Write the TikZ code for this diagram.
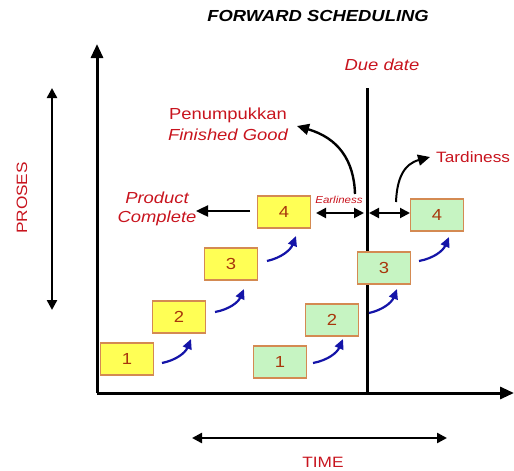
\documentclass[tikz,border=0pt]{standalone}
\usepackage{fontspec}
\setmainfont{Liberation Sans}[FakeStretch=1.15]
\usetikzlibrary{arrows.meta}
\definecolor{redtxt}{HTML}{C8141E}
\definecolor{numtxt}{HTML}{A8360C}
\definecolor{boxedge}{HTML}{D48A52}
\definecolor{yellowfill}{HTML}{FFFF55}
\definecolor{greenfill}{HTML}{C6F4C2}
\definecolor{bluearr}{HTML}{1414A8}
\tikzset{
  stepbox/.style={draw=boxedge, line width=1.3pt, minimum width=53pt, minimum height=32pt,
    inner sep=0pt, font=\fontsize{16}{18}\selectfont, text=numtxt},
  ybox/.style={stepbox, fill=yellowfill},
  gbox/.style={stepbox, fill=greenfill},
  axis/.style={line width=3pt, black},
  blk/.style={line width=2.4pt, black},
  bigtip/.style={-{Triangle[length=12pt,width=11pt]}},
  dbltip/.style={{Triangle[length=10pt,width=10pt]}-{Triangle[length=10pt,width=10pt]}},
  flow/.style={line width=2.2pt, bluearr, -{Triangle[length=10pt,width=9pt]}, bend right=28},
  lbl/.style={text=redtxt, font=\fontsize{16}{19}\selectfont, align=center}
}
\begin{document}
\begin{tikzpicture}[x=1pt,y=-1pt]
\useasboundingbox (0,0) rectangle (514,471);
% title
\node[font=\fontsize{16}{18}\selectfont\bfseries\itshape] (title) at (318,16) {FORWARD SCHEDULING};
% axes
\coordinate (origin) at (97,393);
\coordinate (ytop) at (97,44);
\coordinate (xend) at (514,393);
\draw[axis, -{Triangle[length=14pt,width=12pt]}] (origin) -- (ytop);
\draw[axis, -{Triangle[length=14pt,width=12pt]}] (origin) -- (xend);
% due date
\coordinate (ddtop) at (367,88);
\coordinate (ddbot) at (367,393);
\draw[axis] (ddtop) -- (ddbot);
\node[lbl, font=\fontsize{16}{19}\selectfont\itshape] (due) at (382,65) {Due date};
% PROSES
\coordinate (pa) at (52,88);
\coordinate (pb) at (52,310);
\draw[blk, dbltip] (pa) -- (pb);
\node[lbl, rotate=90, font=\fontsize{15}{18}\selectfont] (proses) at (22,198) {PROSES};
% TIME
\coordinate (ta) at (192,438);
\coordinate (tb) at (447,438);
\draw[blk, dbltip] (ta) -- (tb);
\node[lbl, font=\fontsize{15}{18}\selectfont] (time) at (323,462) {TIME};
% yellow boxes
\node[ybox] (y1) at (127,359) {1};
\node[ybox] (y2) at (179,317) {2};
\node[ybox] (y3) at (231,264) {3};
\node[ybox] (y4) at (284,212) {4};
% green boxes
\node[gbox] (g1) at (280,362) {1};
\node[gbox] (g2) at (332,320) {2};
\node[gbox] (g3) at (384,268) {3};
\node[gbox] (g4) at (437,215) {4};
% blue flow arrows
\coordinate (a1s) at (162,363); \coordinate (a1e) at (191,339);
\coordinate (a2s) at (215,312); \coordinate (a2e) at (244,289);
\coordinate (a3s) at (267,261); \coordinate (a3e) at (296,236);
\coordinate (b1s) at (313,363); \coordinate (b1e) at (343,339);
\coordinate (b2s) at (369,313); \coordinate (b2e) at (397,289);
\coordinate (b3s) at (419,261); \coordinate (b3e) at (449,237);
\draw[flow] (a1s) to (a1e);
\draw[flow] (a2s) to (a2e);
\draw[flow] (a3s) to (a3e);
\draw[flow] (b1s) to (b1e);
\draw[flow] (b2s) to (b2e);
\draw[flow] (b3s) to (b3e);
% product complete
\coordinate (pcs) at (250,211);
\coordinate (pce) at (196,211);
\draw[blk, bigtip] (pcs) -- (pce);
\node[lbl, font=\fontsize{16}{19}\selectfont\itshape] (pc) at (157,209) {Product\\Complete};
% earliness
\coordinate (ea) at (316,213);
\coordinate (eb) at (364,213);
\draw[blk, line width=2pt, dbltip] (ea) -- (eb);
\node[text=redtxt, font=\fontsize{10}{12}\selectfont\itshape] (earl) at (339,200) {Earliness};
\coordinate (ta1) at (369,213);
\coordinate (ta2) at (410,213);
\draw[blk, line width=2pt, dbltip] (ta1) -- (ta2);
% penumpukkan
\coordinate (pns) at (355,194);
\coordinate (pne) at (297,126);
\draw[blk, bigtip] (pns) .. controls (354,160) and (338,138) .. (pne);
\node[lbl, font=\fontsize{16}{19}\selectfont] (pen) at (228,115) {Penumpukkan};
\node[lbl, font=\fontsize{16}{19}\selectfont\itshape] (fg) at (228,135) {Finished Good};
% tardiness
\coordinate (tds) at (396,202);
\coordinate (tde) at (430,157);
\draw[blk, line width=2pt, bigtip] (tds) .. controls (397,178) and (404,164) .. (tde);
\node[lbl, anchor=west, inner sep=0pt, font=\fontsize{15}{18}\selectfont] (tard) at (436,157) {Tardiness};
\end{tikzpicture}
\end{document}
